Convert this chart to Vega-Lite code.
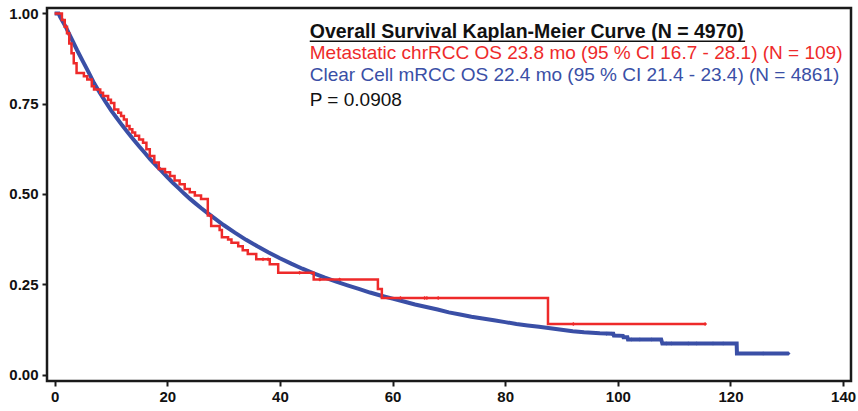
{
  "$schema": "https://vega.github.io/schema/vega-lite/v6.json",
  "width": 804,
  "height": 373,
  "autosize": {"type": "none"},
  "padding": {"left": 47, "top": 8, "right": 7, "bottom": 30},
  "background": "white",
  "config": {
    "view": {"stroke": "#1a1a1a", "strokeWidth": 2.5},
    "axis": {
      "domain": false, "grid": false, "title": null,
      "labelFont": "Liberation Sans", "labelFontWeight": "bold", "labelFontSize": 15, "labelColor": "#111111",
      "tickColor": "#1a1a1a", "tickWidth": 2, "tickSize": 5
    }
  },
  "datasets": {
    "blue": [
      {"t": 0, "s": 1.0}, {"t": 0.7, "s": 1.0}, {"t": 1, "s": 0.99}, {"t": 2, "s": 0.962}, {"t": 3, "s": 0.93},
      {"t": 4, "s": 0.898}, {"t": 5, "s": 0.868}, {"t": 6, "s": 0.838}, {"t": 7, "s": 0.807}, {"t": 8, "s": 0.781},
      {"t": 9, "s": 0.756}, {"t": 10, "s": 0.732}, {"t": 11, "s": 0.711}, {"t": 12, "s": 0.69}, {"t": 13, "s": 0.67},
      {"t": 14, "s": 0.651}, {"t": 15, "s": 0.632}, {"t": 16, "s": 0.614}, {"t": 17, "s": 0.596}, {"t": 18, "s": 0.579},
      {"t": 19, "s": 0.563}, {"t": 20, "s": 0.547}, {"t": 21, "s": 0.531}, {"t": 22, "s": 0.516}, {"t": 23, "s": 0.501},
      {"t": 24, "s": 0.487}, {"t": 25, "s": 0.474}, {"t": 26, "s": 0.461}, {"t": 27, "s": 0.449}, {"t": 28, "s": 0.437},
      {"t": 30, "s": 0.414}, {"t": 32, "s": 0.393}, {"t": 34, "s": 0.373}, {"t": 36, "s": 0.355}, {"t": 38, "s": 0.338},
      {"t": 40, "s": 0.322}, {"t": 42, "s": 0.307}, {"t": 44, "s": 0.293}, {"t": 46, "s": 0.28}, {"t": 48, "s": 0.268},
      {"t": 50, "s": 0.257}, {"t": 52, "s": 0.247}, {"t": 54, "s": 0.237}, {"t": 56, "s": 0.227}, {"t": 58, "s": 0.218},
      {"t": 60, "s": 0.21}, {"t": 62, "s": 0.202}, {"t": 64, "s": 0.194}, {"t": 66, "s": 0.187}, {"t": 68, "s": 0.18},
      {"t": 70, "s": 0.172}, {"t": 72, "s": 0.166}, {"t": 74, "s": 0.16}, {"t": 76, "s": 0.155}, {"t": 78, "s": 0.15},
      {"t": 80, "s": 0.145}, {"t": 82, "s": 0.14}, {"t": 84, "s": 0.136}, {"t": 86, "s": 0.132}, {"t": 88, "s": 0.128},
      {"t": 90, "s": 0.124}, {"t": 92, "s": 0.12}, {"t": 94, "s": 0.117}, {"t": 96.8, "s": 0.114}, {"t": 99.2, "s": 0.113},
      {"t": 99.3, "s": 0.108}, {"t": 100.9, "s": 0.107}, {"t": 101.0, "s": 0.103}, {"t": 101.7, "s": 0.103},
      {"t": 101.8, "s": 0.097}, {"t": 107.7, "s": 0.097}, {"t": 107.9, "s": 0.086}, {"t": 121.1, "s": 0.086},
      {"t": 121.15, "s": 0.058}, {"t": 130.3, "s": 0.058}
    ],
    "red": [
      {"t": 0, "s": 1.0}, {"t": 1.3, "s": 0.982}, {"t": 1.8, "s": 0.963}, {"t": 2.2, "s": 0.945}, {"t": 2.6, "s": 0.917},
      {"t": 3.0, "s": 0.89}, {"t": 3.4, "s": 0.862}, {"t": 3.9, "s": 0.835}, {"t": 5.2, "s": 0.826}, {"t": 5.8, "s": 0.817},
      {"t": 6.6, "s": 0.798}, {"t": 7.0, "s": 0.789}, {"t": 8.1, "s": 0.78}, {"t": 8.6, "s": 0.771}, {"t": 9.5, "s": 0.761},
      {"t": 10.0, "s": 0.752}, {"t": 10.6, "s": 0.734}, {"t": 11.3, "s": 0.725}, {"t": 11.8, "s": 0.716}, {"t": 12.3, "s": 0.706},
      {"t": 12.8, "s": 0.688}, {"t": 13.3, "s": 0.679}, {"t": 13.8, "s": 0.67}, {"t": 14.3, "s": 0.661}, {"t": 15.0, "s": 0.651},
      {"t": 15.7, "s": 0.642}, {"t": 16.3, "s": 0.624}, {"t": 16.9, "s": 0.605}, {"t": 17.7, "s": 0.587}, {"t": 18.5, "s": 0.569},
      {"t": 19.6, "s": 0.56}, {"t": 20.5, "s": 0.55}, {"t": 21.3, "s": 0.537}, {"t": 22.2, "s": 0.527}, {"t": 23.1, "s": 0.514},
      {"t": 24.0, "s": 0.505}, {"t": 24.9, "s": 0.496}, {"t": 26.0, "s": 0.486}, {"t": 27.2, "s": 0.44}, {"t": 27.8, "s": 0.411},
      {"t": 29.3, "s": 0.4}, {"t": 29.7, "s": 0.38}, {"t": 30.8, "s": 0.374}, {"t": 31.4, "s": 0.365}, {"t": 32.6, "s": 0.355},
      {"t": 33.4, "s": 0.344}, {"t": 34.3, "s": 0.334}, {"t": 35.8, "s": 0.319}, {"t": 38.2, "s": 0.305}, {"t": 39.7, "s": 0.282},
      {"t": 46.0, "s": 0.263}, {"t": 57.4, "s": 0.237}, {"t": 58.1, "s": 0.212}, {"t": 87.6, "s": 0.14}, {"t": 115.5, "s": 0.14}
    ],
    "censor": [
      {"t": 37.0, "s": 0.319, "g": "chrRCC"}, {"t": 37.9, "s": 0.319, "g": "chrRCC"}, {"t": 43.5, "s": 0.282, "g": "chrRCC"},
      {"t": 47.1, "s": 0.263, "g": "chrRCC"}, {"t": 50.6, "s": 0.263, "g": "chrRCC"}, {"t": 61.4, "s": 0.212, "g": "chrRCC"},
      {"t": 65.7, "s": 0.212, "g": "chrRCC"}, {"t": 66.1, "s": 0.212, "g": "chrRCC"}, {"t": 68.1, "s": 0.212, "g": "chrRCC"},
      {"t": 92.1, "s": 0.14, "g": "chrRCC"}, {"t": 115.5, "s": 0.14, "g": "chrRCC"},
      {"t": 98.0, "s": 0.113, "g": "ccRCC"}, {"t": 98.9, "s": 0.113, "g": "ccRCC"}, {"t": 102.4, "s": 0.097, "g": "ccRCC"},
      {"t": 103.9, "s": 0.097, "g": "ccRCC"}, {"t": 106.0, "s": 0.097, "g": "ccRCC"}, {"t": 108.6, "s": 0.086, "g": "ccRCC"},
      {"t": 109.5, "s": 0.086, "g": "ccRCC"}, {"t": 112.5, "s": 0.086, "g": "ccRCC"}, {"t": 114.0, "s": 0.086, "g": "ccRCC"},
      {"t": 116.9, "s": 0.086, "g": "ccRCC"}, {"t": 118.7, "s": 0.086, "g": "ccRCC"}, {"t": 125.8, "s": 0.058, "g": "ccRCC"},
      {"t": 130.3, "s": 0.058, "g": "ccRCC"}
    ],
    "lines": [
      {"t": 45.3, "s": 0.875, "g": "chrRCC", "label": "Metastatic chrRCC OS 23.8 mo (95 % CI 16.7 - 28.1) (N = 109)"},
      {"t": 45.3, "s": 0.812, "g": "ccRCC", "label": "Clear Cell mRCC OS 22.4 mo (95 % CI 21.4 - 23.4) (N = 4861)"},
      {"t": 45.3, "s": 0.744, "g": "P", "label": "P = 0.0908"}
    ]
  },
  "layer": [
    {
      "data": {"name": "blue"},
      "mark": {"type": "line", "color": "#3a4fa6", "strokeWidth": 4, "interpolate": "linear"},
      "encoding": {
        "x": {"field": "t", "type": "quantitative", "scale": {"domain": [-1.35, 141.4], "nice": false, "zero": false},
              "axis": {"values": [0, 20, 40, 60, 80, 100, 120, 140], "labelPadding": 3}},
        "y": {"field": "s", "type": "quantitative", "scale": {"domain": [-0.018, 1.015], "nice": false, "zero": false},
              "axis": {"values": [0, 0.25, 0.5, 0.75, 1], "format": ".2f", "labelPadding": 4}}
      }
    },
    {
      "data": {"name": "red"},
      "mark": {"type": "line", "color": "#ee2a2a", "strokeWidth": 2.5, "interpolate": "step-after"},
      "encoding": {
        "x": {"field": "t", "type": "quantitative"},
        "y": {"field": "s", "type": "quantitative"}
      }
    },
    {
      "data": {"name": "censor"},
      "mark": {"type": "point", "shape": "diamond", "filled": true, "size": 16, "opacity": 1},
      "encoding": {
        "x": {"field": "t", "type": "quantitative"},
        "y": {"field": "s", "type": "quantitative"},
        "color": {"field": "g", "type": "nominal", "legend": null,
                  "scale": {"domain": ["chrRCC", "ccRCC", "P"], "range": ["#ee2a2a", "#3a4fa6", "#111111"]}}
      }
    },
    {
      "data": {"values": [{"t": 45.3, "s": 0.931, "label": "Overall Survival Kaplan-Meier Curve (N = 4970)"}]},
      "mark": {"type": "text", "align": "left", "baseline": "alphabetic", "font": "Liberation Sans", "fontSize": 19.5, "fontWeight": "bold", "color": "#111111"},
      "encoding": {
        "x": {"field": "t", "type": "quantitative"},
        "y": {"field": "s", "type": "quantitative"},
        "text": {"field": "label"}
      }
    },
    {
      "data": {"values": [{"t": 45.3, "t2": 122.6, "s": 0.923}]},
      "mark": {"type": "rule", "color": "#111111", "strokeWidth": 1.5},
      "encoding": {
        "x": {"field": "t", "type": "quantitative"},
        "x2": {"field": "t2"},
        "y": {"field": "s", "type": "quantitative"}
      }
    },
    {
      "data": {"name": "lines"},
      "mark": {"type": "text", "align": "left", "baseline": "alphabetic", "font": "Liberation Sans", "fontSize": 19},
      "encoding": {
        "x": {"field": "t", "type": "quantitative"},
        "y": {"field": "s", "type": "quantitative"},
        "text": {"field": "label"},
        "color": {"field": "g", "type": "nominal", "legend": null}
      }
    }
  ]
}
